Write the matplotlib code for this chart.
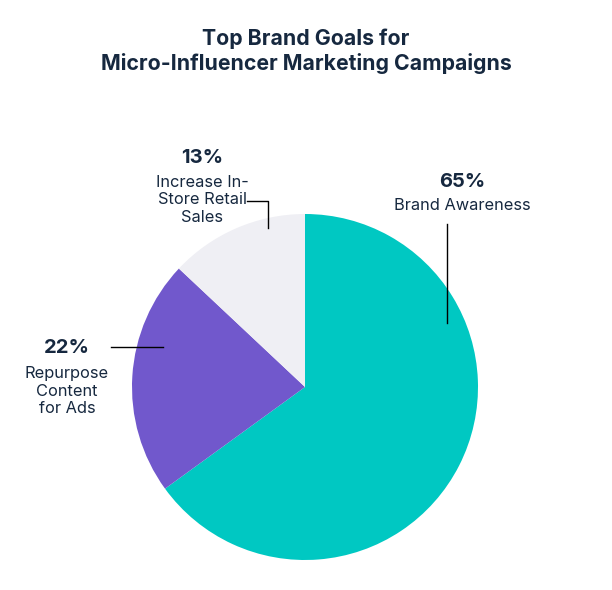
import matplotlib.pyplot as plt

plt.rcParams['font.family'] = ['Inter', 'DejaVu Sans']

# data
labels = ['Brand Awareness', 'Repurpose\nContent\nfor Ads', 'Increase In-\nStore Retail\nSales']
values = [65, 22, 13]
colors = ['#00C8C2', '#7158CC', '#EFEFF4']
navy = '#16283F'

W, H = 612, 590
fig = plt.figure(figsize=(W / 100, H / 100), dpi=100)
ax = fig.add_axes([0, 0, 1, 1])

def y(p):
    # pixel row -> data y
    return H - p

ax.pie(values, colors=colors, startangle=90, counterclock=False,
       center=(305, y(387)), radius=173, frame=True,
       wedgeprops=dict(linewidth=0))
ax.set_xlim(0, W)
ax.set_ylim(0, H)
ax.set_aspect('equal')
ax.axis('off')

# title
ax.text(306, y(39), 'Top Brand Goals for', ha='center', va='center',
        fontsize=15.3, fontweight='bold', color=navy)
ax.text(306, y(63), 'Micro-Influencer Marketing Campaigns', ha='center', va='center',
        fontsize=15.3, fontweight='bold', color=navy)

# annotations: (pct x, pct y, label y)
ann = [(462, 182, 206), (67, 348, 391), (202, 158, 200)]
for (px, py, ly), v, lab in zip(ann, values, labels):
    ax.text(px, y(py), f'{v}%', ha='center', va='center', fontsize=14.5,
            fontweight='bold', color=navy)
    ax.text(px, y(ly), lab, ha='center', va='center', fontsize=11.8,
            color=navy, linespacing=1.22)

# leader lines
lk = dict(color='black', lw=1)
ax.plot([447, 447], [y(224), y(323)], **lk)
ax.plot([111, 163], [y(347), y(347)], **lk)
ax.plot([247, 268, 268], [y(201), y(201), y(228)], **lk)

fig.savefig('out.png', dpi=100, facecolor='white')
